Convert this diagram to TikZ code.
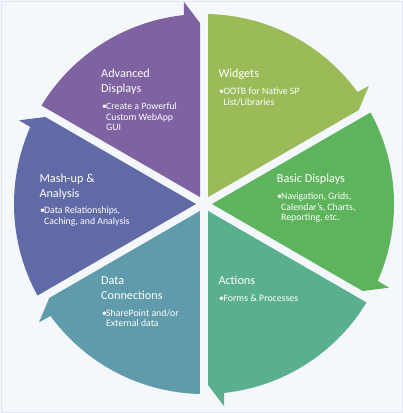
\documentclass[tikz,border=0pt]{standalone}
\usepackage{fontspec}
\setmainfont{Carlito}
\definecolor{bgc}{RGB}{244,247,252}
\definecolor{framec}{RGB}{226,230,238}
\definecolor{cAdv}{RGB}{127,98,161}
\definecolor{cWid}{RGB}{155,187,89}
\definecolor{cBas}{RGB}{93,180,93}
\definecolor{cAct}{RGB}{90,176,142}
\definecolor{cDat}{RGB}{95,155,170}
\definecolor{cMas}{RGB}{96,106,166}
\tikzset{
  ttl/.style={anchor=base west, inner sep=0pt, text=white, font=\fontsize{12.2}{14.7}\selectfont},
  bodytxt/.style={anchor=base west, inner sep=0pt, text=white, font=\fontsize{9.8}{10.5}\selectfont},
  bul/.style={anchor=base west, inner sep=0pt, text=white, font=\fontsize{9.8}{10.5}\selectfont},
}
\begin{document}
\begin{tikzpicture}[x=1pt,y=1pt]
\useasboundingbox (0,0) rectangle (403,413);
\fill[bgc] (0,0) rectangle (403,413);
\draw[framec, line width=0.8pt] (1,1) rectangle (402,412);
\foreach \k/\c in {0/cAdv,1/cWid,2/cBas,3/cAct,4/cDat,5/cMas}{
  \begin{scope}[shift={(204,209)}, rotate=-60*\k]
    \fill[\c] (-4,6.93) -- (-4,181) -- (-20,202) -- (96.1:190)
      arc[start angle=96.1, end angle=148.79, radius=190] -- cycle;
  \end{scope}
}
% Advanced Displays
\node[ttl] (advT) at (101,335) {\begin{tabular}[t]{@{}l@{}}Advanced\\Displays\end{tabular}};
\node[bul] (advB) at (102,303.3) {•};
\node[bodytxt] (advX) at (106,303.3) {\begin{tabular}[t]{@{}l@{}}Create a Powerful\\Custom WebApp\\GUI\end{tabular}};
% Widgets
\node[ttl] (widT) at (218.3,335) {Widgets};
\node[bul] (widB) at (219,318.3) {•};
\node[bodytxt] (widX) at (223.3,318.3) {\begin{tabular}[t]{@{}l@{}}OOTB for Native SP\\List/Libraries\end{tabular}};
% Basic Displays
\node[ttl] (basT) at (276.7,230) {Basic Displays};
\node[bul] (basB) at (277,213.3) {•};
\node[bodytxt] (basX) at (281,213.3) {\begin{tabular}[t]{@{}l@{}}Navigation, Grids,\\Calendar's, Charts,\\Reporting, etc.\end{tabular}};
% Mash-up
\node[ttl] (masT) at (39.3,230.3) {\begin{tabular}[t]{@{}l@{}}Mash-up \&\\Analysis\end{tabular}};
\node[bul] (masB) at (40,199) {•};
\node[bodytxt] (masX) at (44,199) {\begin{tabular}[t]{@{}l@{}}Data Relationships,\\Caching, and Analysis\end{tabular}};
% Data Connections
\node[ttl] (datT) at (101,128.3) {\begin{tabular}[t]{@{}l@{}}Data\\Connections\end{tabular}};
\node[bul] (datB) at (102,96.7) {•};
\node[bodytxt] (datX) at (106,96.7) {\begin{tabular}[t]{@{}l@{}}SharePoint and/or\\External data\end{tabular}};
% Actions
\node[ttl] (actT) at (218.3,128.3) {Actions};
\node[bul] (actB) at (219,111.7) {•};
\node[bodytxt] (actX) at (223.3,111.7) {Forms \& Processes};
\end{tikzpicture}
\end{document}
